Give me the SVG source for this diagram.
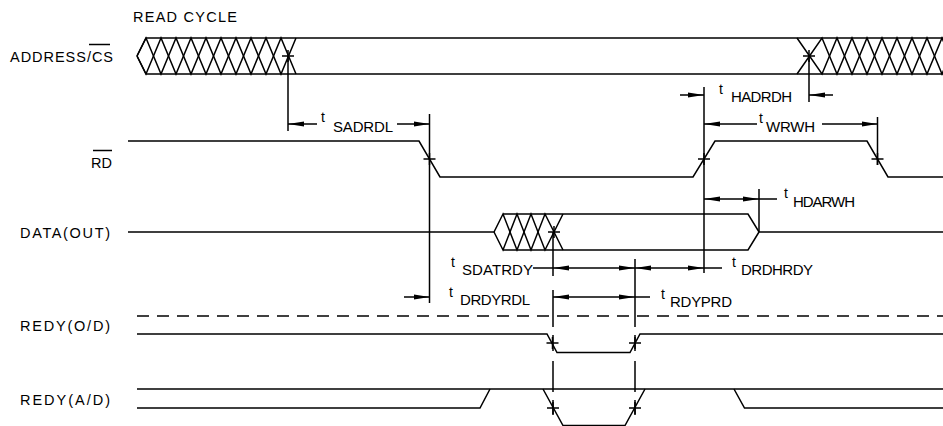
<svg xmlns="http://www.w3.org/2000/svg" width="943" height="426" viewBox="0 0 943 426">
<style>
.l{stroke:#000;stroke-width:1.5;fill:none}
.d{stroke:#000;stroke-width:1.5;fill:none;stroke-dasharray:12 8}
.a{stroke:#000;stroke-width:1.5;fill:none;marker-end:url(#ah)}
.b{stroke:#000;stroke-width:1.5;fill:none;marker-start:url(#ah);marker-end:url(#ah)}
.s{stroke:#000;stroke-width:1.5;fill:none;marker-start:url(#ah)}
text{font-family:"Liberation Sans",Arial,sans-serif;fill:#000}
.n{font-size:14.5px}
.t{font-size:14px}
.u{font-size:15px}
</style>
<defs>
<marker id="ah" viewBox="0 0 16 6" refX="16" refY="3" markerWidth="16" markerHeight="6" markerUnits="userSpaceOnUse" orient="auto-start-reverse">
<path d="M0,0.5 L16,3 L0,5.5 z" fill="#000"/>
</marker>
<path id="cr" d="M-6,0 H6 M0,-6 V6" class="l"/>
</defs>

<text class="n" x="133" y="22" textLength="104" lengthAdjust="spacing">READ CYCLE</text>

<g id="address">
<text class="n" x="10" y="62" textLength="103" lengthAdjust="spacing">ADDRESS/CS</text>
<path class="l" d="M89,44.5 H110"/>
<path class="l" d="M137,56 L146,38 L161,74 L176,38 L191,74 L206,38 L221,74 L236,38 L251,74 L266,38 L281,74 L296,38"/>
<path class="l" d="M137,56 L146,74 L161,38 L176,74 L191,38 L206,74 L221,38 L236,74 L251,38 L266,74 L281,38 L296,74"/>
<path class="l" d="M137,56 L146,38 H943 M137,56 L146,74 H943"/>
<path class="l" d="M797,38 L822,74 L837,38 L852,74 L867,38 L882,74 L897,38 L912,74 L927,38 L942,74 L957,38"/>
<path class="l" d="M797,74 L822,38 L837,74 L852,38 L867,74 L882,38 L897,74 L912,38 L927,74 L942,38 L957,74"/>
<use href="#cr" x="288" y="56"/>
<use href="#cr" x="809" y="56"/>
</g>

<g id="rd">
<text class="n" x="112" y="167.5" text-anchor="end">RD</text>
<path class="l" d="M93,150.5 H112"/>
<path class="l" d="M128,141 H419 L440,177 H693 L715,141 H867 L888,177 H943"/>
<use href="#cr" x="429.5" y="159"/>
<use href="#cr" x="704" y="159"/>
<use href="#cr" x="877.5" y="159"/>
</g>

<g id="data">
<text class="n" x="20" y="238" textLength="90" lengthAdjust="spacing">DATA(OUT)</text>
<path class="l" d="M128,232 H494 L503,214 L517,250 L531,214 L545,250 L563,214"/>
<path class="l" d="M494,232 L503,250 L517,214 L531,250 L545,214 L563,250"/>
<path class="l" d="M503,214 H748 L759,232 H943 M503,250 H748 L759,232"/>
<use href="#cr" x="554" y="232"/>
</g>

<g id="redy-od">
<text class="n" x="20" y="331" textLength="90" lengthAdjust="spacing">REDY(O/D)</text>
<path class="d" d="M137,316 H943"/>
<path class="l" d="M137,334 H547 L557,352.5 H630 L640,334 H943"/>
<use href="#cr" x="552.5" y="343"/>
<use href="#cr" x="635" y="343"/>
</g>

<g id="redy-ad">
<text class="n" x="20" y="405" textLength="90" lengthAdjust="spacing">REDY(A/D)</text>
<path class="l" d="M137,389 H943"/>
<path class="l" d="M137,408 H480 L490,389"/>
<path class="l" d="M543,389 L563,425.5 H625 L645,389"/>
<path class="l" d="M734,389 L744.5,408 H943"/>
<use href="#cr" x="553" y="408"/>
<use href="#cr" x="635" y="408"/>
</g>

<g id="connectors">
<path class="l" d="M288,56 V131"/>
<path class="l" d="M429.5,114 V303"/>
<path class="l" d="M704,87 V273"/>
<path class="l" d="M759,189 V232"/>
<path class="l" d="M877.5,117 V165"/>
<path class="l" d="M809,56 V102"/>
<path class="l" d="M553,232 V276 M553,290 V327 M553,335 V351 M553,361 V392 M553,400 V415"/>
<path class="l" d="M635,259 V327 M635,335 V351 M635,361 V392 M635,400 V415"/>

<path class="s" d="M288,124 H317"/>
<path class="a" d="M397,124 H429.5"/>
<path class="s" d="M704,124 H757"/>
<path class="a" d="M822,124 H877.5"/>
<path class="a" d="M680,95 H704"/>
<path class="a" d="M833,95 H809"/>
<path class="b" d="M704,199 H759"/>
<path class="l" d="M759,199 H777"/>
<path class="l" d="M533,268 H553"/>
<path class="b" d="M553,268 H635"/>
<path class="b" d="M635,268 H704"/>
<path class="l" d="M704,268 H722"/>
<path class="a" d="M404,297 H429.5"/>
<path class="b" d="M553,297 H635"/>
<path class="l" d="M635,297 H650"/>
</g>

<g id="labels">
<text class="t" x="321" y="122">t</text><text class="u" x="333" y="132" textLength="60" lengthAdjust="spacing">SADRDL</text>
<text class="t" x="719" y="94">t</text><text class="u" x="731" y="102" textLength="61" lengthAdjust="spacing">HADRDH</text>
<text class="t" x="759" y="123">t</text><text class="u" x="766" y="132" textLength="49" lengthAdjust="spacing">WRWH</text>
<text class="t" x="784" y="198">t</text><text class="u" x="793" y="206.5" textLength="62" lengthAdjust="spacing">HDARWH</text>
<text class="t" x="451" y="267">t</text><text class="u" x="462" y="275" textLength="71" lengthAdjust="spacing">SDATRDY</text>
<text class="t" x="732" y="266.5">t</text><text class="u" x="741" y="275" textLength="72" lengthAdjust="spacing">DRDHRDY</text>
<text class="t" x="449" y="297">t</text><text class="u" x="460" y="305" textLength="70" lengthAdjust="spacing">DRDYRDL</text>
<text class="t" x="661" y="299">t</text><text class="u" x="670" y="306.5" textLength="62" lengthAdjust="spacing">RDYPRD</text>
</g>
</svg>
